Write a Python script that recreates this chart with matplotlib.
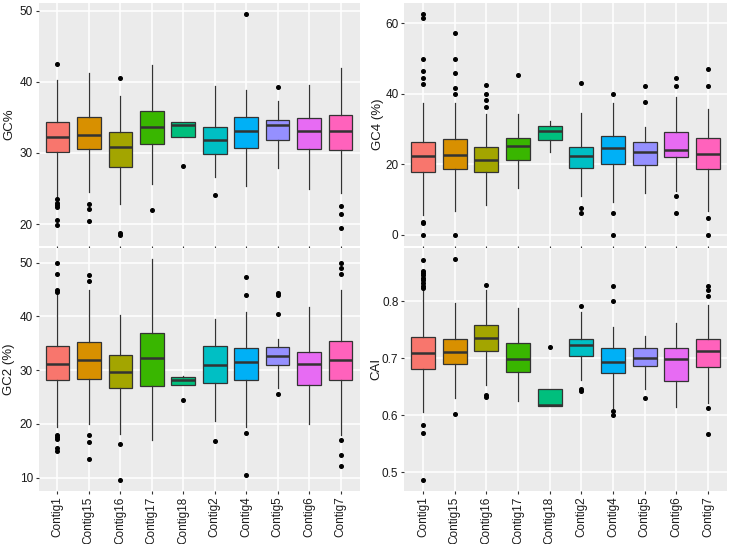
import numpy as np
import matplotlib
matplotlib.use("Agg")
import matplotlib.pyplot as plt

plt.rcParams['font.family'] = ['Liberation Sans', 'DejaVu Sans']

# Kategorien und ggplot-Farben
contigs = ["Contig1", "Contig15", "Contig16", "Contig17", "Contig18",
           "Contig2", "Contig4", "Contig5", "Contig6", "Contig7"]
colors = ["#F8766D", "#D89000", "#A3A500", "#39B600", "#00BF7D",
          "#00BFC4", "#00B0F6", "#9590FF", "#E76BF3", "#FF62BC"]

# GC% (oben links)
gc_q1 = [30.1, 30.55, 28.0, 31.3, 32.2, 29.85, 30.7, 31.8, 30.6, 30.4]
gc_med = [32.2, 32.55, 30.8, 33.6, 33.9, 31.85, 33.15, 33.9, 33.1, 33.1]
gc_q3 = [34.3, 35.0, 33.0, 35.85, 34.4, 33.7, 35.1, 34.6, 34.9, 35.3]
gc_lo = [23.8, 24.55, 22.8, 25.6, 32.2, 26.65, 25.35, 27.9, 24.9, 24.3]
gc_hi = [40.3, 41.3, 38.05, 42.35, 34.4, 39.4, 38.8, 37.3, 39.6, 42.0]
gc_out = [[42.5, 23.5, 22.9, 22.7, 22.4, 20.6, 19.8],
          [22.8, 22.15, 20.4],
          [40.6, 18.8, 18.5],
          [22.0],
          [28.2],
          [24.1],
          [49.5],
          [39.25],
          [],
          [22.5, 21.35, 19.4]]

# GC4 (%) (oben rechts)
gc4_q1 = [17.9, 18.8, 17.7, 21.3, 26.9, 19.05, 20.2, 19.9, 22.1, 18.8]
gc4_med = [22.3, 22.6, 21.3, 25.2, 29.4, 22.45, 24.6, 23.4, 24.05, 22.8]
gc4_q3 = [26.3, 27.1, 25.0, 27.55, 30.9, 25.0, 28.0, 26.3, 29.15, 27.55]
gc4_lo = [5.6, 6.8, 8.3, 13.4, 23.5, 11.1, 9.15, 11.9, 12.3, 6.8]
gc4_hi = [37.45, 37.45, 34.15, 34.15, 32.4, 34.7, 37.45, 30.65, 39.05, 35.6]
gc4_out = [[62.6, 61.5, 50.0, 46.6, 44.4, 42.8, 3.6, 3.2, 0.0],
           [57.2, 50.0, 46.0, 41.7, 40.0, 0.0],
           [42.45, 40.0, 38.3, 36.2],
           [45.5],
           [],
           [43.1, 7.7, 6.3],
           [40.0, 6.3, 0.0],
           [42.1, 37.8],
           [44.4, 42.3, 11.0, 6.3],
           [47.1, 42.3, 4.7, 0.0]]

# GC2 (%) (unten links)
gc2_q1 = [28.2, 28.35, 26.7, 27.05, 27.2, 27.55, 28.2, 30.9, 27.2, 28.2]
gc2_med = [31.2, 31.95, 29.65, 32.2, 28.25, 30.95, 31.5, 32.65, 31.2, 31.95]
gc2_q3 = [34.55, 35.2, 32.8, 36.85, 28.75, 34.55, 34.1, 34.4, 33.45, 35.45]
gc2_lo = [19.4, 20.0, 18.15, 16.9, 27.2, 20.55, 19.5, 26.7, 20.0, 18.0]
gc2_hi = [44.05, 44.85, 40.25, 50.75, 29.0, 39.5, 40.9, 35.75, 41.7, 44.95]
gc2_out = [[50.0, 48.0, 44.85, 44.5, 18.0, 17.5, 17.1, 15.5, 14.9],
           [47.7, 46.6, 18.0, 16.6, 13.45],
           [16.2, 9.6],
           [],
           [24.45],
           [16.8],
           [47.4, 44.0, 18.3, 10.5],
           [44.35, 44.05, 40.5, 25.6],
           [],
           [50.0, 49.0, 48.0, 17.0, 14.25, 12.2]]

# CAI (unten rechts)
cai_q1 = [0.6814, 0.689, 0.7128, 0.675, 0.6157, 0.703, 0.6744, 0.6866, 0.6605, 0.6849]
cai_med = [0.7093, 0.710, 0.736, 0.699, 0.6174, 0.7227, 0.693, 0.701, 0.699, 0.7128]
cai_q3 = [0.7366, 0.733, 0.7576, 0.726, 0.6453, 0.7343, 0.7174, 0.7186, 0.7174, 0.733]
cai_lo = [0.6064, 0.631, 0.6535, 0.6256, 0.6157, 0.662, 0.6128, 0.646, 0.614, 0.6215]
cai_hi = [0.8203, 0.796, 0.820, 0.787, 0.6453, 0.780, 0.754, 0.739, 0.762, 0.7924]
cai_out = [[0.8715, 0.852, 0.849, 0.846, 0.841, 0.837, 0.832, 0.827, 0.823, 0.5827, 0.5688, 0.4867],
           [0.874, 0.603],
           [0.828, 0.636, 0.6326],
           [],
           [0.720],
           [0.791, 0.6465, 0.6424],
           [0.827, 0.800, 0.6076, 0.600],
           [0.6297],
           [],
           [0.827, 0.820, 0.808, 0.6128, 0.5663]]


def draw_panel(ax, q1, med, q3, lo, hi, out, ylabel, yticks, show_x):
    stats = []
    for i in range(len(contigs)):
        stats.append({"q1": q1[i], "med": med[i], "q3": q3[i],
                      "whislo": lo[i], "whishi": hi[i], "fliers": out[i]})
    bp = ax.bxp(stats, positions=np.arange(1, len(contigs) + 1), widths=0.75,
                patch_artist=True, showcaps=False, zorder=3,
                boxprops=dict(edgecolor="#333333", linewidth=0.9),
                medianprops=dict(color="#333333", linewidth=1.8),
                whiskerprops=dict(color="#333333", linewidth=0.9),
                flierprops=dict(marker="o", markersize=2.6, markerfacecolor="black",
                                markeredgecolor="black", linestyle="none"))
    for patch, c in zip(bp["boxes"], colors):
        patch.set_facecolor(c)

    # ggplot-Stil: grauer Hintergrund, weisse Gitterlinien
    ax.set_facecolor("#EBEBEB")
    ax.grid(True, color="white", linewidth=1.1, zorder=0)
    ax.set_axisbelow(True)
    for s in ax.spines.values():
        s.set_visible(False)

    # y-Bereich wie ggplot (5% Erweiterung)
    allv = lo + hi + [v for o in out for v in o]
    lo_v, hi_v = min(allv), max(allv)
    pad = (hi_v - lo_v) * 0.05
    ax.set_ylim(lo_v - pad, hi_v + pad)
    ax.set_xlim(0.4, len(contigs) + 0.6)
    ax.set_yticks(yticks)
    ax.set_xticks(np.arange(1, len(contigs) + 1))
    if show_x:
        ax.set_xticklabels(contigs, rotation=90, va="top", ha="center")
    else:
        ax.set_xticklabels([])
    ax.tick_params(colors="#333333", labelcolor="#1a1a1a", labelsize=8.5,
                   length=2.5, width=0.8, pad=1.5)
    ax.set_ylabel(ylabel, fontsize=9.5, va="center", color="#1a1a1a")


fig = plt.figure(figsize=(7.29, 5.44), dpi=100)
W, H = 729, 544

def add_axes(left, top, right, bottom):
    return fig.add_axes([left / W, 1 - bottom / H, (right - left) / W, (bottom - top) / H])

ax1 = add_axes(38.5, 3.3, 359.5, 245.7)
ax2 = add_axes(404, 3.3, 727, 245.7)
ax3 = add_axes(38.5, 247.7, 359.5, 490.7)
ax4 = add_axes(404, 247.7, 727, 491)

draw_panel(ax1, gc_q1, gc_med, gc_q3, gc_lo, gc_hi, gc_out, "GC%", [20, 30, 40, 50], False)
draw_panel(ax2, gc4_q1, gc4_med, gc4_q3, gc4_lo, gc4_hi, gc4_out, "GC4 (%)", [0, 20, 40, 60], False)
draw_panel(ax3, gc2_q1, gc2_med, gc2_q3, gc2_lo, gc2_hi, gc2_out, "GC2 (%)", [10, 20, 30, 40, 50], True)
draw_panel(ax4, cai_q1, cai_med, cai_q3, cai_lo, cai_hi, cai_out, "CAI", [0.5, 0.6, 0.7, 0.8], True)

ax1.yaxis.set_label_coords(-0.09, 0.5)
ax3.yaxis.set_label_coords(-0.093, 0.5)
ax2.yaxis.set_label_coords(-0.079, 0.5)
ax4.yaxis.set_label_coords(-0.085, 0.5)

plt.savefig("out.png", dpi=100)
